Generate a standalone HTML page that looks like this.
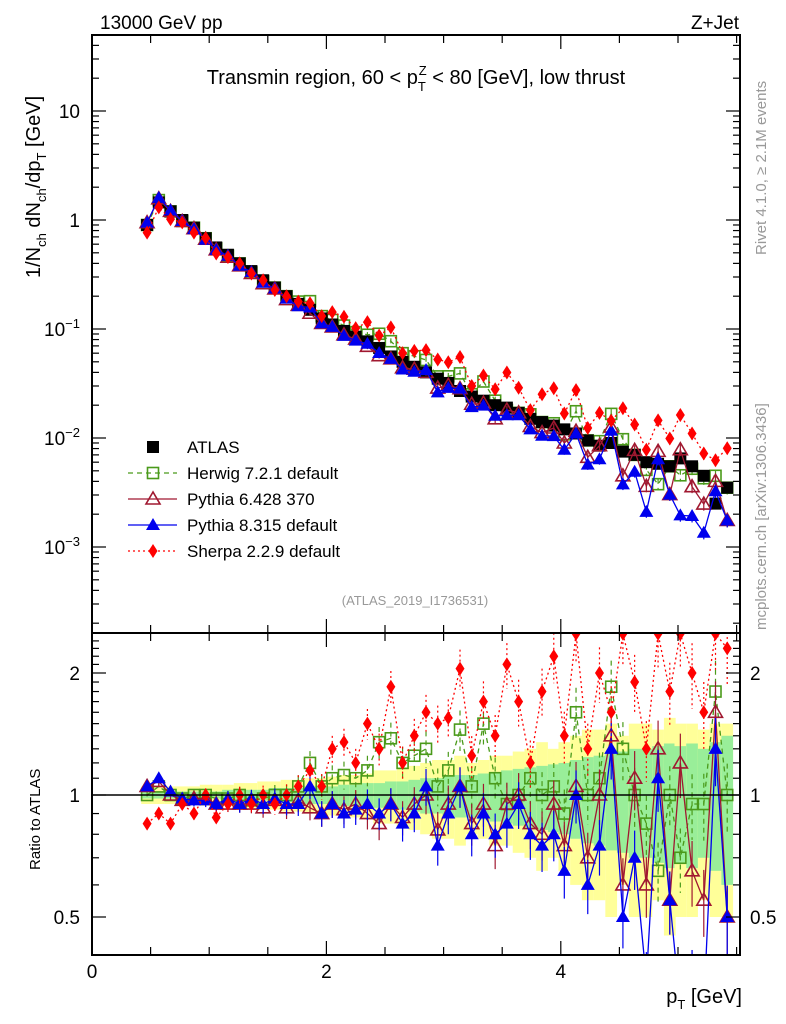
<!DOCTYPE html>
<html><head><meta charset="utf-8">
<style>
html,body{margin:0;padding:0;background:#fff;}
svg{display:block;font-family:"Liberation Sans",sans-serif;}
</style></head>
<body>
<svg id="chart" width="786" height="1024" viewBox="0 0 786 1024" xmlns="http://www.w3.org/2000/svg">
<g id="bands"></g>
<g id="marks"></g>
<g id="axes"></g>
<text x="100" y="29" font-size="19">13000 GeV pp</text>
<text x="739" y="29" font-size="19" text-anchor="end">Z+Jet</text>
<text x="416" y="84" font-size="20" text-anchor="middle">Transmin region, 60 &lt; p<tspan font-size="13" dy="7">T</tspan><tspan font-size="13" dx="-7" dy="-16">Z</tspan><tspan dy="9"> &lt; 80 [GeV], low thrust</tspan></text>
<text x="415" y="605" font-size="13" fill="#999" text-anchor="middle">(ATLAS_2019_I1736531)</text>
<text transform="translate(766,255) rotate(-90)" font-size="15" fill="#999">Rivet 4.1.0, ≥ 2.1M events</text>
<text transform="translate(766,630) rotate(-90)" font-size="15" fill="#999">mcplots.cern.ch [arXiv:1306.3436]</text>
<text transform="translate(40,278) rotate(-90)" font-size="20">1/N<tspan font-size="13" dy="6">ch</tspan><tspan dy="-6"> dN</tspan><tspan font-size="13" dy="6">ch</tspan><tspan dy="-6">/dp</tspan><tspan font-size="13" dy="6">T</tspan><tspan dy="-6"> [GeV]</tspan></text>
<text transform="translate(40,870) rotate(-90)" font-size="15">Ratio to ATLAS</text>
<text x="742" y="1003" font-size="20" text-anchor="end">p<tspan font-size="13" dy="6">T</tspan><tspan dy="-6"> [GeV]</tspan></text>
<g id="legend"></g>
</svg>
<script>
const pt = [0.47,0.57,0.67,0.77,0.87,0.97,1.06,1.16,1.26,1.36,1.46,1.56,1.66,1.76,1.86,1.96,2.05,2.15,2.25,2.35,2.45,2.55,2.65,2.75,2.85,2.95,3.04,3.14,3.24,3.34,3.44,3.54,3.64,3.74,3.84,3.94,4.03,4.13,4.23,4.33,4.43,4.53,4.63,4.73,4.83,4.93,5.02,5.12,5.22,5.32,5.42];
const atlas = [0.9,1.45,1.2,1.0,0.85,0.68,0.56,0.48,0.4,0.34,0.28,0.24,0.2,0.17,0.15,0.125,0.11,0.096,0.085,0.077,0.067,0.056,0.05,0.045,0.04,0.035,0.032,0.027,0.024,0.022,0.02,0.019,0.017,0.015,0.014,0.013,0.012,0.011,0.0095,0.0085,0.009,0.0075,0.007,0.006,0.0058,0.0055,0.0065,0.0055,0.0045,0.0025,0.0035];
const herwigRatio = [1.0,1.05,1.0,0.98,1.0,1.0,0.98,0.98,1.0,0.97,0.98,1.0,1.0,1.05,1.2,1.05,1.1,1.12,1.1,1.15,1.35,1.38,1.2,1.25,1.3,1.05,1.15,1.45,1.05,1.5,1.1,0.95,1.0,1.1,1.0,1.05,0.9,1.6,1.0,1.1,1.85,1.3,1.0,0.85,0.65,1.0,0.7,0.95,0.95,1.8,1.0];
const py6Ratio = [1.05,1.08,1.0,0.97,0.98,0.98,0.95,0.95,0.95,0.95,0.93,0.97,0.93,0.97,0.93,0.9,0.95,0.92,0.95,0.9,0.85,0.95,0.88,0.95,1.0,0.82,0.95,1.05,0.85,0.95,0.75,0.95,1.0,0.85,0.8,0.95,0.75,1.05,0.7,1.0,1.4,0.6,1.1,0.6,1.3,0.55,1.2,0.65,0.55,1.6,0.5];
const py8Ratio = [1.05,1.1,1.02,0.98,0.97,0.97,0.95,0.98,0.95,0.98,0.95,0.98,0.95,0.95,1.05,0.9,0.95,0.9,0.92,0.95,0.9,0.95,0.85,0.9,1.05,0.75,0.9,1.05,0.8,0.9,0.8,0.85,0.95,0.8,0.75,0.8,0.65,1.0,0.6,0.75,1.3,0.5,0.7,0.35,1.1,0.55,0.3,0.35,0.3,1.3,0.5];
const sherpaRatio = [0.85,0.9,0.85,0.95,0.9,1.0,0.88,0.95,1.0,0.95,1.0,0.95,1.0,1.05,1.15,1.05,1.3,1.35,1.2,1.5,1.3,1.85,1.2,1.4,1.6,1.5,1.55,2.05,1.25,1.7,1.4,2.1,1.7,1.2,1.8,2.2,1.4,2.5,1.3,2.0,1.6,2.5,1.9,1.3,2.5,1.8,2.5,2.0,1.6,2.5,2.3];
const totErr = [0.05,0.05,0.05,0.05,0.05,0.06,0.06,0.06,0.07,0.07,0.08,0.08,0.09,0.09,0.1,0.1,0.11,0.12,0.12,0.13,0.15,0.15,0.17,0.18,0.2,0.22,0.22,0.25,0.2,0.22,0.25,0.25,0.28,0.3,0.35,0.3,0.35,0.4,0.45,0.45,0.5,0.4,0.5,0.5,0.45,0.55,0.5,0.5,0.45,0.5,0.5];
const statErr = [0.02,0.02,0.02,0.02,0.02,0.02,0.02,0.03,0.03,0.03,0.03,0.04,0.04,0.04,0.05,0.05,0.05,0.06,0.06,0.07,0.07,0.08,0.08,0.09,0.1,0.1,0.11,0.12,0.12,0.13,0.14,0.15,0.16,0.17,0.18,0.19,0.2,0.22,0.24,0.25,0.27,0.28,0.3,0.3,0.32,0.34,0.32,0.34,0.3,0.35,0.4];
const yTicks = [10,1,0.1,0.01,0.001];
const yTickLabels = ["10","1","10<tspan font-size='13' dy='-8'>−1</tspan>","10<tspan font-size='13' dy='-8'>−2</tspan>","10<tspan font-size='13' dy='-8'>−3</tspan>"];
const rTicks = [0.5,1,2];
const xTicks = [0,2,4];

const NS = "http://www.w3.org/2000/svg";
const L = 92, R = 740, T = 35, MB = 633, RB = 955;
const X = v => L + v * 117.2;
const Y = v => 220 - Math.log10(v) * 109;
const RY = v => 795 - Math.log2(v) * 122;
function mk(parent, tag, attrs) {
  const e = document.createElementNS(NS, tag);
  for (const k in attrs) e.setAttribute(k, attrs[k]);
  parent.appendChild(e); return e;
}
const bands = document.getElementById('bands');
const marks = document.getElementById('marks');
const axes = document.getElementById('axes');
const clampR = v => Math.min(Math.max(v, 0.39), 2.55);

pt.forEach((p, i) => {
  const x0 = X(p - 0.05), w = X(0.1) - L;
  const y1 = RY(clampR(1 + totErr[i])), y2 = RY(clampR(Math.max(1 - totErr[i], 0.39)));
  const b = mk(bands, 'rect', {x: x0, y: y1, width: w, height: y2 - y1, fill: '#ffff99'});
  
  
  const g1 = RY(1 + statErr[i]), g2 = RY(1 - statErr[i]);
  const g = mk(bands, 'rect', {x: x0, y: g1, width: w, height: g2 - g1, fill: '#99ee99'});
  
  
});
mk(axes, 'line', {x1: L, y1: RY(1), x2: R, y2: RY(1), stroke: '#000', 'stroke-width': 1.5});

const series = [
  {name: 'herwig', ratio: herwigRatio, color: '#4a9a1a', dash: '5,4', marker: 'sq-open'},
  {name: 'pythia6', ratio: py6Ratio, color: '#a01830', dash: '', marker: 'tri-open'},
  {name: 'pythia8', ratio: py8Ratio, color: '#0000ee', dash: '', marker: 'tri'},
  {name: 'sherpa', ratio: sherpaRatio, color: '#ff0000', dash: '2,3', marker: 'dia'}
];
function marker(g, type, x, y, c) {
  let e;
  if (type === 'sq-open') e = mk(g, 'rect', {x: x - 5.5, y: y - 5.5, width: 11, height: 11, fill: 'none', stroke: c, 'stroke-width': 1.6});
  else if (type === 'sq') e = mk(g, 'rect', {x: x - 6, y: y - 6, width: 12, height: 12, fill: '#000'});
  else if (type === 'tri-open') e = mk(g, 'polygon', {points: `${x},${y-7} ${x-7},${y+5} ${x+7},${y+5}`, fill: 'none', stroke: c, 'stroke-width': 1.6});
  else if (type === 'tri') e = mk(g, 'polygon', {points: `${x},${y-7} ${x-7},${y+5} ${x+7},${y+5}`, fill: c});
  else e = mk(g, 'polygon', {points: `${x},${y-7} ${x-4.5},${y} ${x},${y+7} ${x+4.5},${y}`, fill: c});
  return e;
}
const defs = mk(document.getElementById('chart'), 'defs', {});
const cp = mk(defs, 'clipPath', {id: 'rclip'});
mk(cp, 'rect', {x: L, y: MB, width: R - L, height: RB - MB});

series.forEach(s => {
  const g = mk(marks, 'g', {});
  
  
  const vals = pt.map((p, i) => atlas[i] * s.ratio[i]);
  const pts = pt.map((p, i) => `${X(p)},${Y(vals[i])}`).join(' ');
  mk(g, 'polyline', {points: pts, fill: 'none', stroke: s.color, 'stroke-width': 1.3, 'stroke-dasharray': s.dash});
  pt.forEach((p, i) => {
    const e = (0.01 + i * 0.0025) * vals[i];
    mk(g, 'line', {x1: X(p), x2: X(p), y1: Y(vals[i] + e), y2: Y(Math.max(vals[i] - e, 1e-5)), stroke: s.color, 'stroke-width': 1.2, 'stroke-dasharray': s.dash});
    const m = marker(g, s.marker, X(p), Y(vals[i]), s.color);
    
    
  });
  const gr = mk(marks, 'g', {'clip-path': 'url(#rclip)'});
  
  
  const rp = pt.map((p, i) => `${X(p)},${RY(s.ratio[i])}`).join(' ');
  mk(gr, 'polyline', {points: rp, fill: 'none', stroke: s.color, 'stroke-width': 1.3, 'stroke-dasharray': s.dash});
  pt.forEach((p, i) => {
    const e = 0.02 + i * 0.0035;
    mk(gr, 'line', {x1: X(p), x2: X(p), y1: RY(s.ratio[i] * (1 + e)), y2: RY(s.ratio[i] * (1 - e)), stroke: s.color, 'stroke-width': 1.2, 'stroke-dasharray': s.dash});
    const m = marker(gr, s.marker, X(p), RY(s.ratio[i]), s.color);
    
    
  });
});
const ga = mk(marks, 'g', {});


pt.forEach((p, i) => {
  const m = marker(ga, 'sq', X(p), Y(atlas[i]), '#000');
  
  
});
marks.insertBefore(ga, marks.firstChild.nextSibling);

mk(axes, 'rect', {x: L, y: T, width: R - L, height: MB - T, fill: 'none', stroke: '#000', 'stroke-width': 2});
mk(axes, 'rect', {x: L, y: MB, width: R - L, height: RB - MB, fill: 'none', stroke: '#000', 'stroke-width': 2});
for (let v = 0; v <= 5.5; v += 0.5) {
  const len = (Math.abs(v % 2) < 1e-6) ? 14 : 8;
  [[T, 1], [MB, 1], [MB, -1], [RB, -1]].forEach(([y0, d]) => mk(axes, 'line', {x1: X(v), x2: X(v), y1: y0, y2: y0 + d * len, stroke: '#000', 'stroke-width': 1.2}));
}
xTicks.forEach(v => {
  const t = mk(axes, 'text', {x: X(v), y: 978, 'font-size': 19, 'text-anchor': 'middle'});
  t.textContent = v;
  
  
});
for (let d = -4; d <= 1; d++) for (let k = 1; k <= 9; k++) {
  const v = k * Math.pow(10, d), y = Y(v);
  if (y < T || y > MB) continue;
  const len = k === 1 ? 14 : 7;
  mk(axes, 'line', {x1: L, x2: L + len, y1: y, y2: y, stroke: '#000', 'stroke-width': 1.2});
  mk(axes, 'line', {x1: R, x2: R - len, y1: y, y2: y, stroke: '#000', 'stroke-width': 1.2});
}
yTicks.forEach((v, i) => {
  const t = mk(axes, 'text', {x: 80, y: Y(v) + 7, 'font-size': 19, 'text-anchor': 'end'});
  t.innerHTML = yTickLabels[i];
  
  
});
for (let v = 0.4; v <= 2.5; v += 0.1) {
  const y = RY(v); if (y < MB || y > RB) continue;
  const major = rTicks.some(r => Math.abs(r - v) < 1e-6);
  const len = major ? 14 : 7;
  mk(axes, 'line', {x1: L, x2: L + len, y1: y, y2: y, stroke: '#000', 'stroke-width': 1.2});
  mk(axes, 'line', {x1: R, x2: R - len, y1: y, y2: y, stroke: '#000', 'stroke-width': 1.2});
}
rTicks.forEach(v => {
  const t = mk(axes, 'text', {x: 80, y: RY(v) + 7, 'font-size': 19, 'text-anchor': 'end'});
  t.textContent = v;
  
  
  const t2 = mk(axes, 'text', {x: 750, y: RY(v) + 7, 'font-size': 19});
  t2.textContent = v;
  
  
});
const lg = document.getElementById('legend');
const legendItems = [
  {label: 'ATLAS', color: '#000', marker: 'sq', line: false, dash: ''},
  {label: 'Herwig 7.2.1 default', color: '#4a9a1a', marker: 'sq-open', line: true, dash: '5,4'},
  {label: 'Pythia 6.428 370', color: '#a01830', marker: 'tri-open', line: true, dash: ''},
  {label: 'Pythia 8.315 default', color: '#0000ee', marker: 'tri', line: true, dash: ''},
  {label: 'Sherpa 2.2.9 default', color: '#ff0000', marker: 'dia', line: true, dash: '2,3'}
];
legendItems.forEach((it, i) => {
  const y = 447 + i * 26;
  const g = mk(lg, 'g', {});
  
  
  if (it.line) mk(g, 'line', {x1: 128, x2: 177, y1: y, y2: y, stroke: it.color, 'stroke-width': 1.3, 'stroke-dasharray': it.dash});
  marker(g, it.marker, 153, y, it.color);
  const t = mk(g, 'text', {x: 187, y: y + 6, 'font-size': 17});
  t.textContent = it.label;
});
</script>
</body></html>
